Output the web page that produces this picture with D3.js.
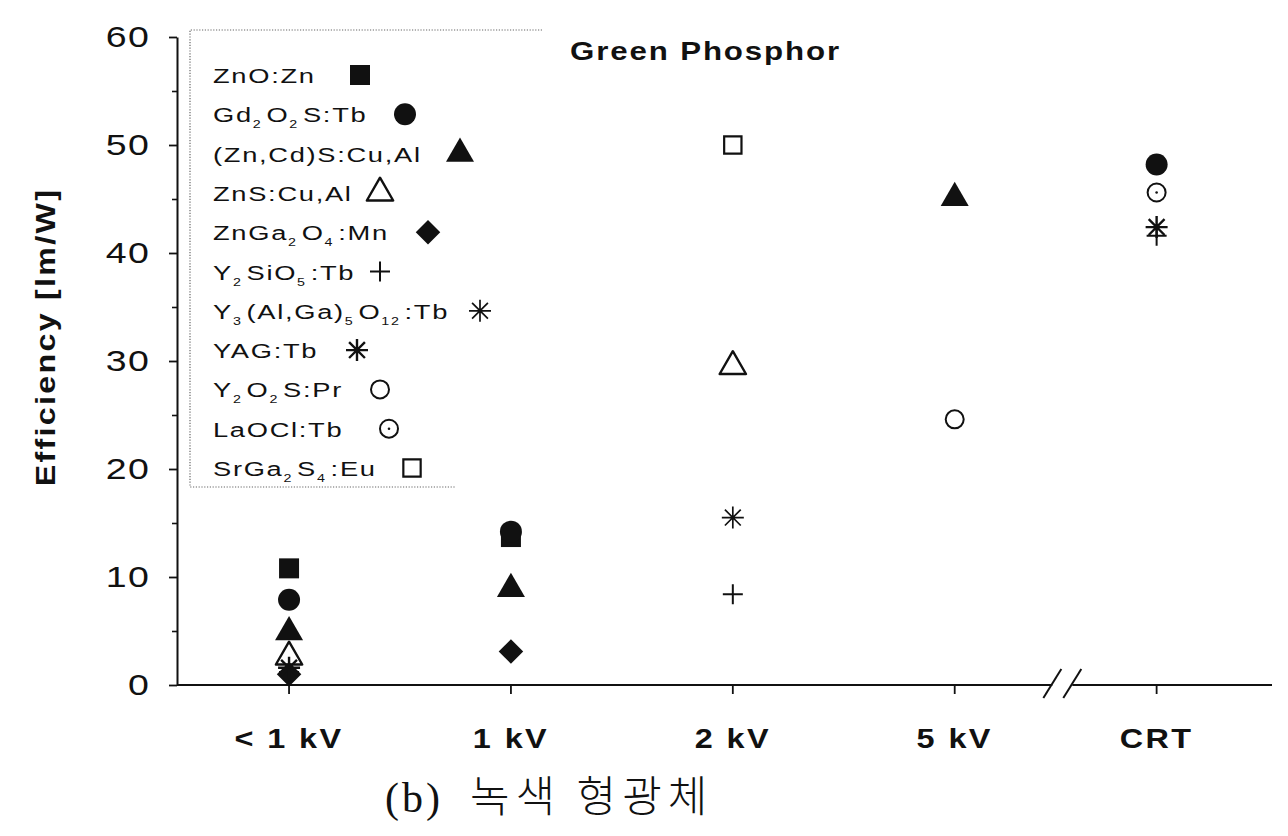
<!DOCTYPE html>
<html>
<head>
<meta charset="utf-8">
<script src="https://cdn.jsdelivr.net/npm/d3@7"></script>
<style>
  html, body { margin: 0; padding: 0; background: #fff; }
  svg { display: block; }
  text { font-family: 'Liberation Sans', Arial, sans-serif; fill: #111; }
</style>
</head>
<body>
<svg id="chart" width="1288" height="836"></svg>
<script>
// ── Data ──────────────────────────────────────────────
const categories = ['< 1 kV', '1 kV', '2 kV', '5 kV', 'CRT'];
// slot on the x scale (CRT sits after the axis break)
const categorySlot = [0, 1, 2, 3, 3.91];
const yTicks = [0, 10, 20, 30, 40, 50, 60];

const phosphors = [
  'ZnO:Zn', 'Gd_{2}O_{2}S:Tb', '(Zn,Cd)S:Cu,Al', 'ZnS:Cu,Al', 'ZnGa_{2}O_{4}:Mn',
  'Y_{2}SiO_{5}:Tb', 'Y_{3}(Al,Ga)_{5}O_{12}:Tb', 'YAG:Tb', 'Y_{2}O_{2}S:Pr',
  'LaOCl:Tb', 'SrGa_{2}S_{4}:Eu'
];
const symbols = [
  'squareFill', 'circleFill', 'triFill', 'triOpen', 'diamondFill',
  'plus', 'asteriskThin', 'asterisk', 'circleOpen', 'circleDot', 'squareOpen'
];
// efficiency [lm/W] per category (<1kV, 1kV, 2kV, 5kV, CRT), null = not measured
const valZnO    = [10.8, 13.7, null, null, null];
const valGdOS   = [7.9, 14.2, null, null, 48.2];
const valZnCdS  = [4.9, 8.9, null, 45.1, null];
const valZnS    = [2.6, null, 29.5, null, null];
const valZnGaO  = [1.0, 3.1, null, null, null];
const valYSiO   = [1.2, null, 8.4, null, 41.6];
const valYAlGaO = [null, null, 15.5, null, null];
const valYAG    = [1.6, null, null, null, 42.4];
const valYOS    = [null, null, null, 24.6, null];
const valLaOCl  = [null, null, null, null, 45.6];
const valSrGaS  = [null, null, 50.0, null, null];
const seriesValues = [valZnO, valGdOS, valZnCdS, valZnS, valZnGaO, valYSiO,
  valYAlGaO, valYAG, valYOS, valLaOCl, valSrGaS];

// legend symbol x (as placed in the original figure)
const legendSymX = [360, 405, 460, 380, 428, 380, 480, 357, 380, 389, 412];

// ── Setup ─────────────────────────────────────────────
const svg = d3.select('#chart');
const x = d3.scaleLinear().domain([-0.505, 4.43]).range([177, 1272]);
const y = d3.scaleLinear().domain([0, 60]).range([685, 37]);
const ink = '#111';
const WIDE = 1.25;   // the scanned figure's type is stretched horizontally

// ── Marker factory ────────────────────────────────────
function drawMarker(sel, type, cx, cy) {
  const g = sel.append('g').attr('transform', `translate(${cx},${cy})`);
  const sym = (t, size) => d3.symbol().type(t).size(size)();
  switch (type) {
    case 'squareFill':
      g.append('path').attr('d', sym(d3.symbolSquare, 400)).attr('fill', ink); break;
    case 'squareOpen':
      g.append('path').attr('d', sym(d3.symbolSquare, 300)).attr('fill', 'none')
        .attr('stroke', ink).attr('stroke-width', 2.2); break;
    case 'circleFill':
      g.append('circle').attr('r', 11).attr('fill', ink); break;
    case 'circleOpen':
      g.append('circle').attr('r', 9).attr('fill', 'none').attr('stroke', ink).attr('stroke-width', 2); break;
    case 'circleDot':
      g.append('circle').attr('r', 9).attr('fill', 'none').attr('stroke', ink).attr('stroke-width', 2);
      g.append('circle').attr('r', 1.3).attr('fill', ink); break;
    case 'triFill':
      g.append('path').attr('d', sym(d3.symbolTriangle, 340)).attr('fill', ink); break;
    case 'triOpen':
      g.append('path').attr('d', sym(d3.symbolTriangle, 300)).attr('fill', 'none')
        .attr('stroke', ink).attr('stroke-width', 2.4).attr('stroke-linejoin', 'round'); break;
    case 'diamondFill':
      g.append('path').attr('d', sym(d3.symbolSquare, 300)).attr('transform', 'rotate(45)').attr('fill', ink); break;
    case 'plus':
      g.append('path').attr('d', 'M-10,0H10M0,-10V10').attr('stroke', ink).attr('stroke-width', 2); break;
    case 'asterisk':
    case 'asteriskThin': {
      const r = 11, d = r * 0.72;
      g.append('path')
        .attr('d', `M${-r},0H${r}M0,${-r}V${r}M${-d},${-d}L${d},${d}M${-d},${d}L${d},${-d}`)
        .attr('stroke', ink).attr('stroke-width', type === 'asterisk' ? 2.4 : 1.7);
      break;
    }
  }
}

// ── Axes ──────────────────────────────────────────────
const yAxis = svg.append('g').attr('transform', 'translate(177,0)')
  .call(d3.axisLeft(y).tickValues(yTicks).tickSize(8).tickPadding(19).tickSizeOuter(0));
yAxis.select('.domain').attr('stroke', ink).attr('stroke-width', 2);
yAxis.selectAll('.tick line').attr('stroke', ink).attr('stroke-width', 1.8);
yAxis.selectAll('.tick text')
  .attr('font-size', 30).attr('letter-spacing', 1)
  .attr('font-family', "'Liberation Sans', Arial, sans-serif").attr('fill', '#1a1a1a')
  .attr('transform', `scale(${WIDE},1)`)
  .attr('x', -27 / WIDE);

const yMinor = svg.append('g').attr('transform', 'translate(177,0)')
  .call(d3.axisLeft(y).tickValues(d3.range(5, 60, 10)).tickSize(5).tickFormat(''));
yMinor.select('.domain').remove();
yMinor.selectAll('.tick line').attr('stroke', ink).attr('stroke-width', 1.6);

// x axis with break before CRT
const breakA = 3.44, breakB = 3.53;
const xAxisG = svg.append('g').attr('transform', `translate(0,${y(0)})`);
xAxisG.append('line').attr('x1', x(-0.505)).attr('x2', x(breakA)).attr('stroke', ink).attr('stroke-width', 2);
xAxisG.append('line').attr('x1', x(breakB)).attr('x2', x(4.43)).attr('stroke', ink).attr('stroke-width', 2);
[breakA, breakB].forEach(b => {
  xAxisG.append('line')
    .attr('x1', x(b) - 9).attr('y1', 13).attr('x2', x(b) + 9).attr('y2', -16)
    .attr('stroke', ink).attr('stroke-width', 2);
});
const xt = xAxisG.selectAll('g.xtick').data(categories).join('g')
  .attr('class', 'xtick')
  .attr('transform', (d, i) => `translate(${x(categorySlot[i])},0)`);
xt.append('line').attr('y2', 9).attr('stroke', ink).attr('stroke-width', 1.8);
xt.append('text').attr('transform', `translate(0,63) scale(1.2,1)`).attr('text-anchor', 'middle')
  .attr('font-size', 27).attr('font-weight', 'bold').attr('letter-spacing', 2)
  .text(d => d);

// axis titles
svg.append('text')
  .attr('transform', 'translate(55,337) rotate(-90) scale(1.15,1)')
  .attr('text-anchor', 'middle').attr('font-size', 28).attr('font-weight', 'bold')
  .attr('letter-spacing', 2)
  .text('Efficiency [lm/W]');

svg.append('text').attr('transform', `translate(570,60) scale(${WIDE},1)`)
  .attr('font-size', 25).attr('font-weight', 'bold').attr('letter-spacing', 1.5)
  .text('Green Phosphor');

// ── Data points ───────────────────────────────────────
const marks = svg.append('g').attr('class', 'marks');
seriesValues.forEach((vals, s) => {
  vals.forEach((v, i) => {
    if (v == null) return;
    drawMarker(marks, symbols[s], x(categorySlot[i]), y(v));
  });
});

// ── Legend ────────────────────────────────────────────
const legend = svg.append('g').attr('class', 'legend');
legend.append('path').attr('d', 'M542,30H190V487H455')
  .attr('stroke', '#666').attr('stroke-width', 1.2).attr('stroke-dasharray', '1.2,1.6').attr('fill', 'none');

function richLabel(textSel, label) {
  const parts = label.split(/(_\{[^}]*\})/).filter(p => p.length);
  parts.forEach(p => {
    const m = p.match(/^_\{([^}]*)\}$/);
    if (m) {
      textSel.append('tspan').attr('font-size', 11).attr('dy', 6).text(m[1]);
      textSel.append('tspan').attr('dy', -6).text('\u200a');
    } else {
      textSel.append('tspan').text(p);
    }
  });
}

phosphors.forEach((name, i) => {
  const rowY = 75 + i * 39.3;
  const t = legend.append('text').attr('transform', `translate(213,${rowY + 8}) scale(1.3,1)`)
    .attr('font-size', 21).attr('letter-spacing', 1.3);
  richLabel(t, name);
  drawMarker(legend, symbols[i], legendSymX[i], rowY);
});

// ── Caption ───────────────────────────────────────────
const cap = svg.append('text').attr('x', 385).attr('y', 812).attr('font-size', 42);
cap.append('tspan').attr('font-family', "'Liberation Serif', 'DejaVu Serif', serif").attr('letter-spacing', 3).text('(b)');
cap.append('tspan').attr('x', 470).attr('font-family', "'Noto Sans CJK KR', sans-serif").attr('font-weight', 300)
  .attr('font-size', 43).attr('letter-spacing', 6).text('녹색 형광체');
</script>
</body>
</html>
